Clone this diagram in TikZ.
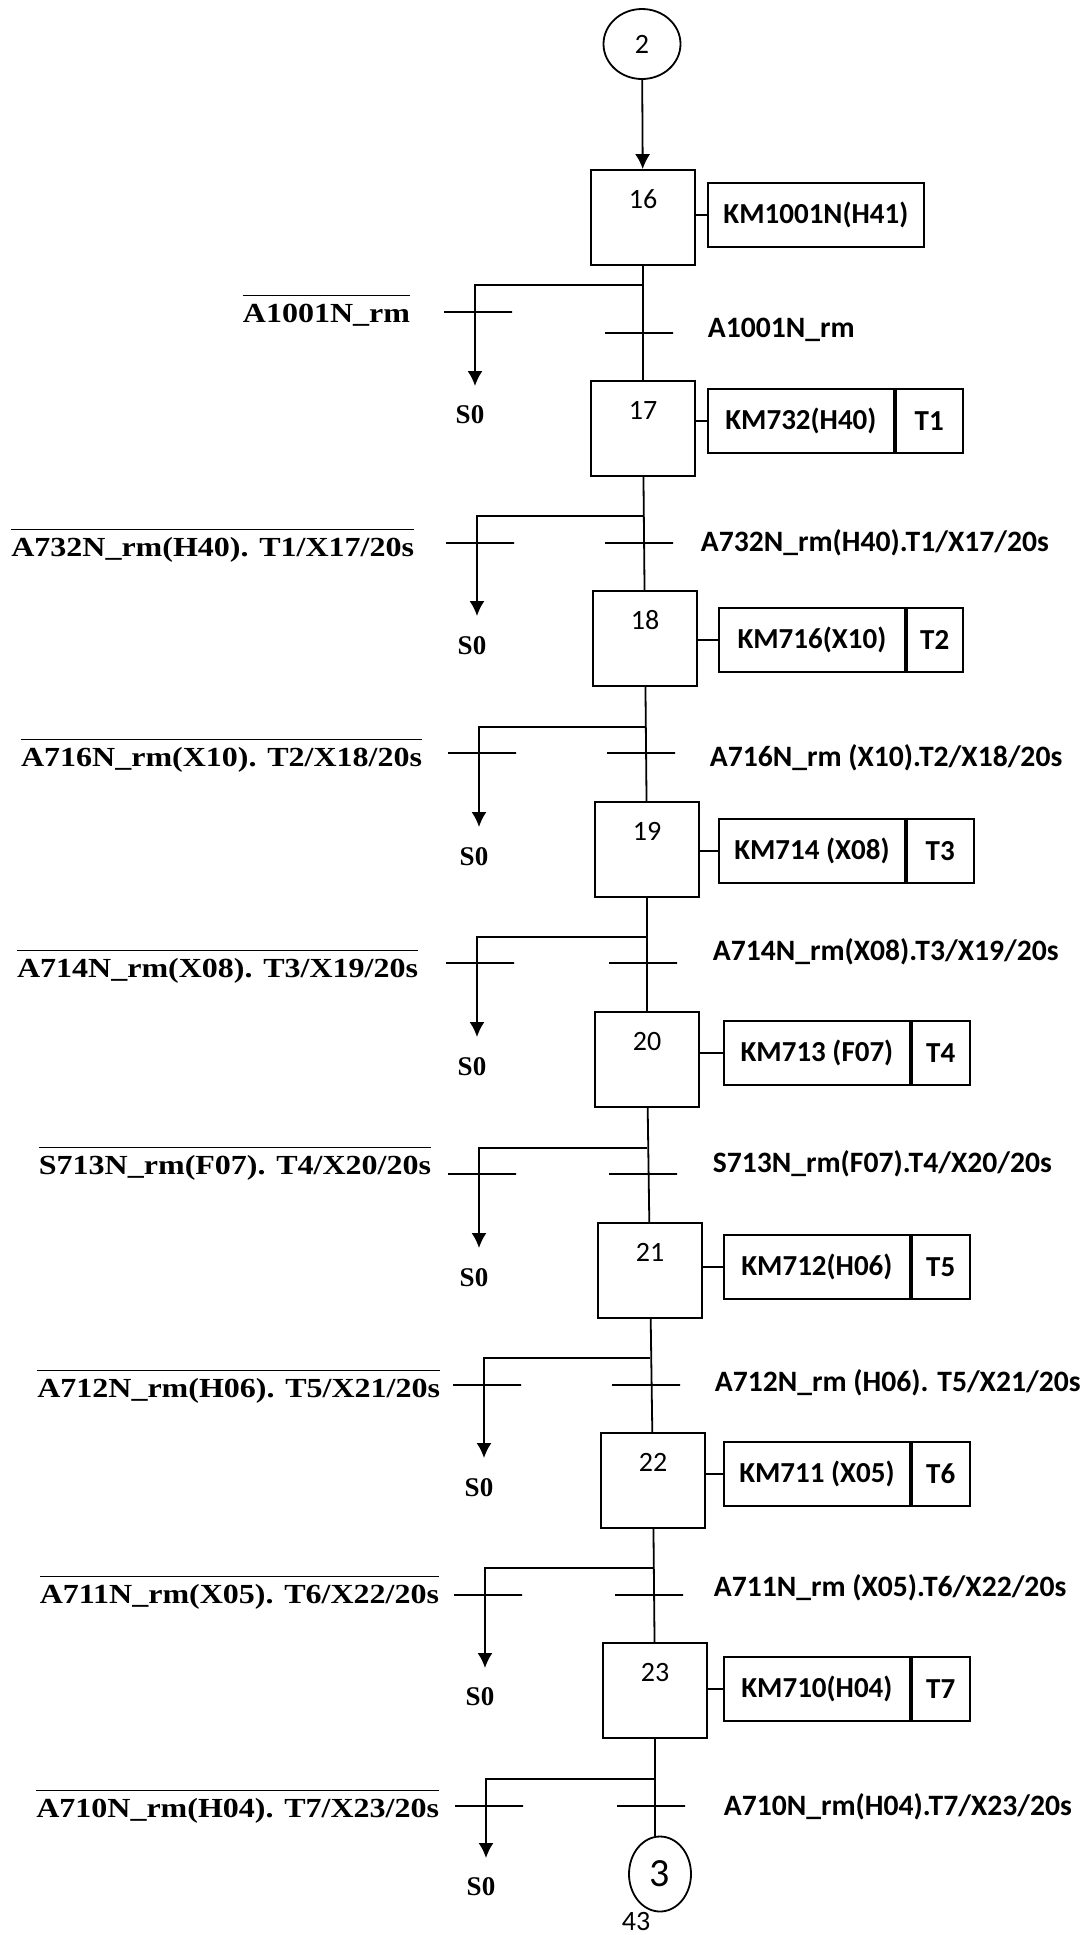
\documentclass[tikz,border=0pt]{standalone}
\usepackage{fontspec}
\setmainfont{Carlito}
\newfontfamily\lblfont{Liberation Serif}[FakeStretch=1.16]
\newfontfamily\sofont{Liberation Serif}
\usepackage{tikz}
\usetikzlibrary{arrows.meta,positioning,shapes.geometric}
\newcommand{\notc}[1]{\(\overline{\hbox{\rule{0pt}{11.8pt}#1}}\)}

\begin{document}
\begin{tikzpicture}[x=0.5pt, y=-0.5pt, line width=0.9pt,
  stepbox/.style={draw, inner sep=0pt, minimum width=52pt, text height=19.4pt, text depth=28.1pt, font=\fontsize{14}{16}\selectfont},
  act/.style={draw, inner sep=0pt, minimum height=32pt, font=\bfseries\fontsize{14.5}{16}\selectfont},
  bar/.style={draw, inner sep=0pt, minimum width=34pt, minimum height=0pt},
  condl/.style={anchor=base east, inner sep=0pt, font=\lblfont\bfseries\fontsize{13.8}{16}\selectfont},
  condr/.style={anchor=base west, inner sep=0pt, font=\bfseries\fontsize{14.8}{16}\selectfont},
  back/.style={inner sep=0pt, font=\sofont\bfseries\fontsize{13.5}{16}\selectfont},
  link/.style={ellipse, draw, inner sep=0pt},
  >={Latex[length=7.5pt,width=7.5pt]}]
  \useasboundingbox (0,0) rectangle (1087,1935);

  % entry
  \node[link, minimum width=38.5pt, minimum height=35pt, font=\fontsize{14}{16}\selectfont] (c2) at (642,44) {2};

  % step 16
  \node[stepbox] (s16) at (643,217.5) {16};
  \node[act, minimum width=108pt, anchor=west] (a16) at (707,215) {KM1001N(H41)};
  \draw[->] (c2) -- (s16);
  \draw (s16.east |- a16.west) -- (a16.west);
  \coordinate (j16) at (643,285);
  \coordinate (e16) at (475,386);
  \draw[->] (j16) -| (e16);
  \node[bar] (bl16) at (478,312) {};
  \node[bar] (br16) at (639,333) {};
  \node[condl] (cl16) at (411,322) {\notc{A1001N\_rm}};
  \node[condr] (cr16) at (707,337) {A1001N\_rm};
  \node[back] (z16) at (470,415) {S0};

  % step 17
  \node[stepbox] (s17) at (643,428.5) {17};
  \node[act, minimum width=93pt, anchor=west] (a17) at (707,421) {KM732(H40)};
  \node[act, minimum width=33.5pt, right=0pt of a17] (t17) {T1};
  \draw (s16) -- (s17);
  \draw (s17.east |- a17.west) -- (a17.west);
  \coordinate (j17) at (643,516);
  \coordinate (e17) at (477,616);
  \draw[->] (j17) -| (e17);
  \node[bar] (bl17) at (480,543) {};
  \node[bar] (br17) at (639,543) {};
  \node[condl] (cl17) at (415,556) {\notc{A732N\_rm(H40). T1/X17/20s}};
  \node[condr] (cr17) at (700,551) {A732N\_rm(H40).T1/X17/20s};
  \node[back] (z17) at (472,646) {S0};

  % step 18
  \node[stepbox] (s18) at (645,638.5) {18};
  \node[act, minimum width=93pt, anchor=west] (a18) at (718,640) {KM716(X10)};
  \node[act, minimum width=28pt, right=0pt of a18] (t18) {T2};
  \draw (s17) -- (s18);
  \draw (s18.east |- a18.west) -- (a18.west);
  \coordinate (j18) at (645,727);
  \coordinate (e18) at (479,827);
  \draw[->] (j18) -| (e18);
  \node[bar] (bl18) at (482,753) {};
  \node[bar] (br18) at (641,753) {};
  \node[condl] (cl18) at (423,766) {\notc{A716N\_rm(X10). T2/X18/20s}};
  \node[condr] (cr18) at (709,766) {A716N\_rm (X10).T2/X18/20s};
  \node[back] (z18) at (474,857) {S0};

  % step 19
  \node[stepbox] (s19) at (647,849.5) {19};
  \node[act, minimum width=93pt, anchor=west] (a19) at (718,851) {KM714 (X08)};
  \node[act, minimum width=33.5pt, right=0pt of a19] (t19) {T3};
  \draw (s18) -- (s19);
  \draw (s19.east |- a19.west) -- (a19.west);
  \coordinate (j19) at (647,937);
  \coordinate (e19) at (477,1037);
  \draw[->] (j19) -| (e19);
  \node[bar] (bl19) at (480,963) {};
  \node[bar] (br19) at (643,963) {};
  \node[condl] (cl19) at (419,977) {\notc{A714N\_rm(X08). T3/X19/20s}};
  \node[condr] (cr19) at (712,960) {A714N\_rm(X08).T3/X19/20s};
  \node[back] (z19) at (472,1067) {S0};

  % step 20
  \node[stepbox] (s20) at (647,1059.5) {20};
  \node[act, minimum width=93pt, anchor=west] (a20) at (723,1053) {KM713 (F07)};
  \node[act, minimum width=29pt, right=0pt of a20] (t20) {T4};
  \draw (s19) -- (s20);
  \draw (s20.east |- a20.west) -- (a20.west);
  \coordinate (j20) at (647,1148);
  \coordinate (e20) at (479,1248);
  \draw[->] (j20) -| (e20);
  \node[bar] (bl20) at (482,1174) {};
  \node[bar] (br20) at (643,1174) {};
  \node[condl] (cl20) at (432,1174) {\notc{S713N\_rm(F07). T4/X20/20s}};
  \node[condr] (cr20) at (712,1172) {S713N\_rm(F07).T4/X20/20s};
  \node[back] (z20) at (474,1278) {S0};

  % step 21
  \node[stepbox] (s21) at (650,1270.5) {21};
  \node[act, minimum width=93pt, anchor=west] (a21) at (723,1267) {KM712(H06)};
  \node[act, minimum width=29pt, right=0pt of a21] (t21) {T5};
  \draw (s20) -- (s21);
  \draw (s21.east |- a21.west) -- (a21.west);
  \coordinate (j21) at (650,1358);
  \coordinate (e21) at (484,1458);
  \draw[->] (j21) -| (e21);
  \node[bar] (bl21) at (487,1385) {};
  \node[bar] (br21) at (646,1385) {};
  \node[condl] (cl21) at (441,1397) {\notc{A712N\_rm(H06). T5/X21/20s}};
  \node[condr] (cr21) at (714,1391) {A712N\_rm (H06). T5/X21/20s};
  \node[back] (z21) at (479,1488) {S0};

  % step 22
  \node[stepbox] (s22) at (653,1480.5) {22};
  \node[act, minimum width=93pt, anchor=west] (a22) at (723,1474) {KM711 (X05)};
  \node[act, minimum width=29pt, right=0pt of a22] (t22) {T6};
  \draw (s21) -- (s22);
  \draw (s22.east |- a22.west) -- (a22.west);
  \coordinate (j22) at (653,1568);
  \coordinate (e22) at (485,1668);
  \draw[->] (j22) -| (e22);
  \node[bar] (bl22) at (488,1595) {};
  \node[bar] (br22) at (649,1595) {};
  \node[condl] (cl22) at (440,1603) {\notc{A711N\_rm(X05). T6/X22/20s}};
  \node[condr] (cr22) at (713,1596) {A711N\_rm (X05).T6/X22/20s};
  \node[back] (z22) at (480,1697) {S0};

  % step 23
  \node[stepbox] (s23) at (655,1690.5) {23};
  \node[act, minimum width=93pt, anchor=west] (a23) at (723,1689) {KM710(H04)};
  \node[act, minimum width=29pt, right=0pt of a23] (t23) {T7};
  \draw (s22) -- (s23);
  \draw (s23.east |- a23.west) -- (a23.west);
  \coordinate (j23) at (655,1779);
  \coordinate (e23) at (486,1858);
  \draw[->] (j23) -| (e23);
  \node[bar] (bl23) at (489,1806) {};
  \node[bar] (br23) at (651,1806) {};
  \node[condl] (cl23) at (440,1817) {\notc{A710N\_rm(H04). T7/X23/20s}};
  \node[condr] (cr23) at (723,1815) {A710N\_rm(H04).T7/X23/20s};
  \node[back] (z23) at (481,1887) {S0};

  % exit
  \node[link, minimum width=31pt, minimum height=37.5pt, font=\fontsize{20}{22}\selectfont] (c3) at (660,1874) {3};
  \draw (s23.south) -- (s23.south |- c3.north);
  \node[anchor=base, inner sep=0pt, font=\fontsize{14}{16}\selectfont] (pg) at (636,1930) {43};
\end{tikzpicture}
\end{document}
